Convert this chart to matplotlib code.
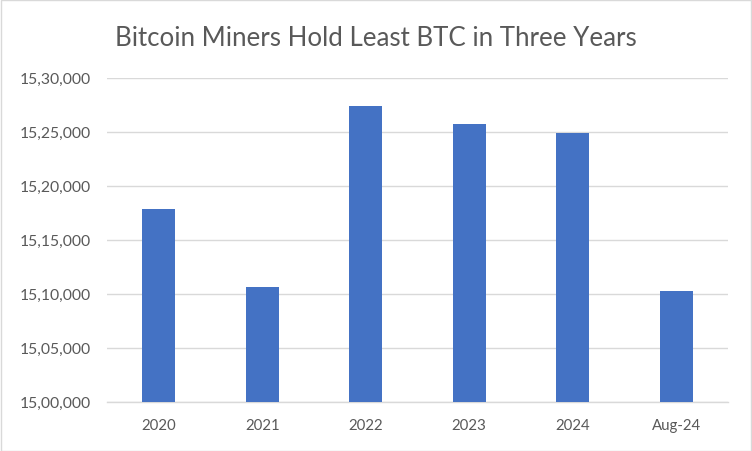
import matplotlib.pyplot as plt
from matplotlib.ticker import FuncFormatter
from matplotlib.patches import Rectangle

categories = ['2020', '2021', '2022', '2023', '2024', 'Aug-24']
btc_held = [1517840, 1510620, 1527380, 1525710, 1524880, 1510250]

plt.rcParams['font.family'] = ['Lato', 'DejaVu Sans']


def indian_fmt(v, pos):
    s = str(int(round(v)))
    last3 = s[-3:]
    rest = s[:-3]
    parts = []
    while len(rest) > 2:
        parts.insert(0, rest[-2:])
        rest = rest[:-2]
    if rest:
        parts.insert(0, rest)
    return ','.join(parts + [last3])


fig = plt.figure(figsize=(7.52, 4.52), dpi=100)
ax = fig.add_axes([107 / 752, 1 - 402.7 / 452, 621 / 752, 324 / 452])

x = range(len(categories))
ax.bar(x, btc_held, width=0.32, color='#4472C4', zorder=3)
ax.set_xlim(-0.5, len(categories) - 0.5)
ax.set_ylim(1500000, 1530000)
ax.set_yticks(range(1500000, 1530001, 5000))
ax.yaxis.set_major_formatter(FuncFormatter(indian_fmt))
ax.set_xticks(list(x))
ax.set_xticklabels(categories)

ax.grid(axis='y', color='#D9D9D9', linewidth=1.0, zorder=0)
for side in ['top', 'right', 'left']:
    ax.spines[side].set_visible(False)
ax.spines['bottom'].set_color('#D9D9D9')
ax.spines['bottom'].set_linewidth(1.0)
ax.tick_params(axis='both', length=0, colors='#595959')
ax.tick_params(axis='y', pad=12, labelsize=11.3)
ax.tick_params(axis='x', pad=12, labelsize=10.8)

fig.text(0.5, 1 - 38 / 452, 'Bitcoin Miners Hold Least BTC in Three Years',
         ha='center', va='center', fontsize=18.6, color='#595959')

fig.patches.append(Rectangle((0.5 / 752, 0.5 / 452), 1 - 1.5 / 752, 1 - 1.5 / 452,
                             transform=fig.transFigure, fill=False,
                             edgecolor='#D9D9D9', linewidth=1.0))

fig.savefig('out.png', dpi=100)
